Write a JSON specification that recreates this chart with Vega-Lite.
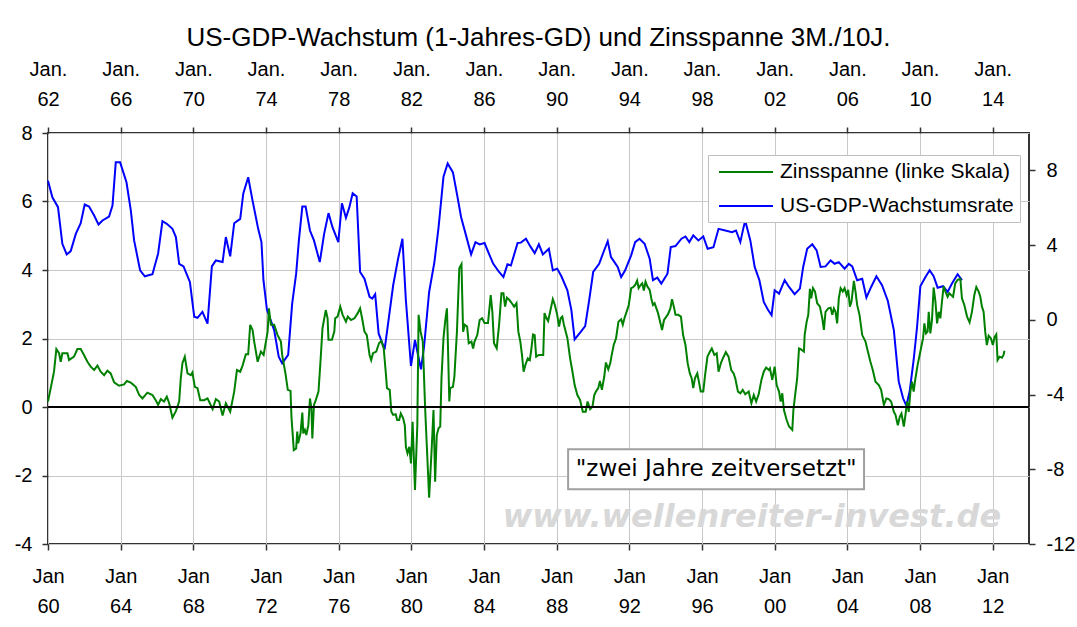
{
  "$schema": "https://vega.github.io/schema/vega-lite/v6.json",
  "width": 981,
  "height": 411,
  "autosize": "none",
  "padding": {"left": 48, "top": 133, "right": 48, "bottom": 83},
  "background": "white",
  "title": {"text": "US-GDP-Wachstum (1-Jahres-GD) und Zinsspanne 3M./10J.", "font": "Liberation Sans", "fontSize": 26, "fontWeight": "normal", "color": "black", "anchor": "middle", "offset": 8},
  "config": {
    "font": "Liberation Sans",
    "view": {"stroke": "#333333", "strokeWidth": 2},
    "axis": {"labelFont": "Liberation Sans", "labelFontSize": 20, "labelColor": "black", "tickColor": "#333333", "tickSize": 6, "tickWidth": 1.5, "domain": false, "title": null, "labelOverlap": false, "labelFlush": false, "gridColor": "#c8c8c8", "gridWidth": 1, "labelLineHeight": 30},
    "legend": {"orient": "none", "legendX": 660, "legendY": 22, "symbolType": "M-0.6,0H4.8", "symbolSize": 400, "symbolStrokeWidth": 2, "labelFontSize": 21, "labelFont": "Liberation Sans", "labelColor": "black", "labelLimit": 400, "padding": 6, "strokeColor": "#c0c0c0", "fillColor": "white", "rowPadding": 13, "labelOffset": 44}
  },
  "datasets": {
    "zinsspanne": [
      {"jahr":1960.00,"wert":0.16},{"jahr":1960.15,"wert":0.55},{"jahr":1960.33,"wert":1.03},{"jahr":1960.46,"wert":1.69},{"jahr":1960.61,"wert":1.57},{"jahr":1960.70,"wert":1.32},{"jahr":1960.79,"wert":1.57},{"jahr":1961.07,"wert":1.57},{"jahr":1961.16,"wert":1.37},{"jahr":1961.43,"wert":1.47},{"jahr":1961.62,"wert":1.69},{"jahr":1961.80,"wert":1.69},{"jahr":1961.98,"wert":1.52},{"jahr":1962.17,"wert":1.32},{"jahr":1962.35,"wert":1.18},{"jahr":1962.54,"wert":1.08},{"jahr":1962.72,"wert":1.21},{"jahr":1962.90,"wert":1.03},{"jahr":1963.09,"wert":0.93},{"jahr":1963.27,"wert":1.06},{"jahr":1963.45,"wert":0.98},{"jahr":1963.64,"wert":0.72},{"jahr":1963.91,"wert":0.62},{"jahr":1964.19,"wert":0.66},{"jahr":1964.34,"wert":0.76},{"jahr":1964.56,"wert":0.71},{"jahr":1964.83,"wert":0.59},{"jahr":1965.02,"wert":0.35},{"jahr":1965.20,"wert":0.25},{"jahr":1965.47,"wert":0.42},{"jahr":1965.75,"wert":0.35},{"jahr":1965.93,"wert":0.20},{"jahr":1966.06,"wert":0.06},{"jahr":1966.21,"wert":0.23},{"jahr":1966.39,"wert":0.16},{"jahr":1966.54,"wert":0.30},{"jahr":1966.67,"wert":0.11},{"jahr":1966.85,"wert":-0.31},{"jahr":1967.04,"wert":-0.12},{"jahr":1967.22,"wert":0.16},{"jahr":1967.31,"wert":0.84},{"jahr":1967.40,"wert":1.28},{"jahr":1967.53,"wert":1.47},{"jahr":1967.68,"wert":0.98},{"jahr":1967.86,"wert":0.93},{"jahr":1967.95,"wert":1.01},{"jahr":1968.08,"wert":0.59},{"jahr":1968.23,"wert":0.55},{"jahr":1968.38,"wert":0.20},{"jahr":1968.60,"wert":0.20},{"jahr":1968.78,"wert":0.25},{"jahr":1969.06,"wert":-0.06},{"jahr":1969.24,"wert":0.23},{"jahr":1969.42,"wert":0.16},{"jahr":1969.61,"wert":-0.25},{"jahr":1969.79,"wert":0.11},{"jahr":1970.03,"wert":-0.14},{"jahr":1970.25,"wert":0.45},{"jahr":1970.40,"wert":1.08},{"jahr":1970.58,"wert":1.03},{"jahr":1970.71,"wert":1.21},{"jahr":1970.89,"wert":1.54},{"jahr":1971.02,"wert":1.54},{"jahr":1971.13,"wert":2.40},{"jahr":1971.26,"wert":2.25},{"jahr":1971.35,"wert":1.91},{"jahr":1971.54,"wert":1.32},{"jahr":1971.72,"wert":1.62},{"jahr":1971.87,"wert":1.52},{"jahr":1972.09,"wert":2.20},{"jahr":1972.16,"wert":2.88},{"jahr":1972.27,"wert":2.40},{"jahr":1972.45,"wert":2.40},{"jahr":1972.64,"wert":2.10},{"jahr":1972.82,"wert":1.91},
      {"jahr":1972.89,"wert":1.52},{"jahr":1973.07,"wert":0.98},{"jahr":1973.20,"wert":0.50},{"jahr":1973.35,"wert":0.47},{"jahr":1973.40,"wert":-0.28},{"jahr":1973.53,"wert":-1.26},{"jahr":1973.66,"wert":-1.21},{"jahr":1973.72,"wert":-0.72},{"jahr":1973.77,"wert":-1.06},{"jahr":1973.90,"wert":-0.77},{"jahr":1974.00,"wert":-0.16},{"jahr":1974.05,"wert":-0.77},{"jahr":1974.14,"wert":-0.67},{"jahr":1974.22,"wert":-0.82},{"jahr":1974.33,"wert":-0.53},{"jahr":1974.42,"wert":0.25},{"jahr":1974.50,"wert":-0.04},{"jahr":1974.55,"wert":-0.92},{"jahr":1974.64,"wert":0.06},{"jahr":1974.74,"wert":0.20},{"jahr":1974.89,"wert":0.45},{"jahr":1975.01,"wert":1.42},{"jahr":1975.11,"wert":2.30},{"jahr":1975.29,"wert":2.83},{"jahr":1975.39,"wert":2.59},{"jahr":1975.44,"wert":1.96},{"jahr":1975.63,"wert":1.96},{"jahr":1975.76,"wert":2.20},{"jahr":1975.81,"wert":2.59},{"jahr":1975.94,"wert":2.64},{"jahr":1976.09,"wert":2.93},{"jahr":1976.22,"wert":2.69},{"jahr":1976.40,"wert":2.49},{"jahr":1976.50,"wert":2.64},{"jahr":1976.68,"wert":2.54},{"jahr":1976.87,"wert":2.59},{"jahr":1977.05,"wert":2.74},{"jahr":1977.18,"wert":2.88},{"jahr":1977.29,"wert":2.59},{"jahr":1977.42,"wert":2.20},{"jahr":1977.55,"wert":2.10},{"jahr":1977.70,"wert":1.52},{"jahr":1977.79,"wert":1.37},{"jahr":1977.89,"wert":1.57},{"jahr":1978.07,"wert":1.62},{"jahr":1978.22,"wert":1.86},{"jahr":1978.35,"wert":1.93},{"jahr":1978.48,"wert":1.71},{"jahr":1978.59,"wert":1.03},{"jahr":1978.66,"wert":0.55},{"jahr":1978.81,"wert":0.50},{"jahr":1978.90,"wert":-0.14},{"jahr":1979.00,"wert":-0.23},{"jahr":1979.14,"wert":-0.21},{"jahr":1979.22,"wert":-0.38},{"jahr":1979.33,"wert":-0.38},{"jahr":1979.42,"wert":-0.19},{"jahr":1979.55,"wert":-0.33},{"jahr":1979.64,"wert":-0.53},{"jahr":1979.70,"wert":-1.16},{"jahr":1979.79,"wert":-1.35},{"jahr":1979.89,"wert":-1.16},{"jahr":1979.98,"wert":-1.65},{"jahr":1980.07,"wert":-0.43},{"jahr":1980.20,"wert":-2.42},{"jahr":1980.33,"wert":-0.53},{"jahr":1980.40,"wert":2.69},{"jahr":1980.51,"wert":2.20},{"jahr":1980.63,"wert":1.91},{"jahr":1980.76,"wert":-0.04},{"jahr":1980.85,"wert":-1.11},{"jahr":1980.98,"wert":-2.65},{"jahr":1981.13,"wert":-1.11},{"jahr":1981.22,"wert":-0.09},{"jahr":1981.31,"wert":-2.18},{"jahr":1981.40,"wert":-0.82},{"jahr":1981.50,"wert":-0.62},{"jahr":1981.59,"wert":-0.57},{"jahr":1981.66,"wert":0.84},{"jahr":1981.77,"wert":2.01},{"jahr":1981.87,"wert":2.54},{"jahr":1981.96,"wert":2.88},{"jahr":1982.01,"wert":1.91},{"jahr":1982.09,"wert":0.16},{"jahr":1982.14,"wert":0.55},{"jahr":1982.29,"wert":0.59},{"jahr":1982.37,"wert":0.89},{"jahr":1982.51,"wert":2.20},{"jahr":1982.64,"wert":4.05},{"jahr":1982.76,"wert":4.17},{"jahr":1982.85,"wert":2.20},{"jahr":1982.94,"wert":2.40},{"jahr":1983.07,"wert":2.35},{"jahr":1983.16,"wert":1.86},{"jahr":1983.31,"wert":1.91},{"jahr":1983.40,"wert":1.71},{"jahr":1983.48,"wert":1.91},{"jahr":1983.63,"wert":2.10},{"jahr":1983.76,"wert":2.54},{"jahr":1983.90,"wert":2.59},{"jahr":1984.03,"wert":2.45},{"jahr":1984.22,"wert":2.45},{"jahr":1984.37,"wert":3.27},{"jahr":1984.46,"wert":2.78},{"jahr":1984.55,"wert":1.86},{"jahr":1984.70,"wert":1.71},{"jahr":1984.83,"wert":2.40},{"jahr":1984.96,"wert":3.32},{"jahr":1985.07,"wert":3.32},{"jahr":1985.16,"wert":2.93},{"jahr":1985.26,"wert":3.19},{"jahr":1985.39,"wert":3.13},{"jahr":1985.53,"wert":3.03},{"jahr":1985.66,"wert":2.93},{"jahr":1985.79,"wert":3.03},{"jahr":1985.89,"wert":2.20},{"jahr":1986.00,"wert":1.91},
      {"jahr":1986.09,"wert":1.52},{"jahr":1986.18,"wert":1.03},{"jahr":1986.28,"wert":1.23},{"jahr":1986.41,"wert":1.42},{"jahr":1986.52,"wert":1.37},{"jahr":1986.59,"wert":1.62},{"jahr":1986.70,"wert":2.12},{"jahr":1986.79,"wert":2.10},{"jahr":1986.87,"wert":1.47},{"jahr":1987.02,"wert":1.52},{"jahr":1987.26,"wert":1.52},{"jahr":1987.33,"wert":2.74},{"jahr":1987.44,"wert":2.59},{"jahr":1987.53,"wert":2.51},{"jahr":1987.66,"wert":2.83},{"jahr":1987.79,"wert":3.15},{"jahr":1987.90,"wert":2.98},{"jahr":1988.03,"wert":2.69},{"jahr":1988.13,"wert":2.35},{"jahr":1988.22,"wert":2.59},{"jahr":1988.31,"wert":2.64},{"jahr":1988.40,"wert":2.40},{"jahr":1988.59,"wert":2.01},{"jahr":1988.74,"wert":1.42},{"jahr":1988.87,"wert":1.03},{"jahr":1988.99,"wert":0.64},{"jahr":1989.14,"wert":0.35},{"jahr":1989.29,"wert":0.20},{"jahr":1989.44,"wert":-0.14},{"jahr":1989.60,"wert":-0.14},{"jahr":1989.70,"wert":0.16},{"jahr":1989.84,"wert":-0.06},{"jahr":1989.97,"wert":0.01},{"jahr":1990.07,"wert":0.35},{"jahr":1990.16,"wert":0.45},{"jahr":1990.29,"wert":0.55},{"jahr":1990.38,"wert":0.76},{"jahr":1990.49,"wert":0.50},{"jahr":1990.62,"wert":0.89},{"jahr":1990.71,"wert":1.30},{"jahr":1990.84,"wert":1.10},{"jahr":1990.95,"wert":1.28},{"jahr":1991.03,"wert":1.52},{"jahr":1991.14,"wert":1.81},{"jahr":1991.27,"wert":2.01},{"jahr":1991.40,"wert":2.49},{"jahr":1991.55,"wert":2.56},{"jahr":1991.64,"wert":2.40},{"jahr":1991.73,"wert":2.59},{"jahr":1991.88,"wert":2.83},{"jahr":1991.97,"wert":2.98},{"jahr":1992.10,"wert":3.47},{"jahr":1992.19,"wert":3.49},{"jahr":1992.32,"wert":3.56},{"jahr":1992.43,"wert":3.69},{"jahr":1992.51,"wert":3.47},{"jahr":1992.62,"wert":3.56},{"jahr":1992.71,"wert":3.61},{"jahr":1992.80,"wert":3.40},{"jahr":1992.89,"wert":3.66},{"jahr":1992.99,"wert":3.52},{"jahr":1993.12,"wert":3.42},{"jahr":1993.21,"wert":3.17},{"jahr":1993.30,"wert":2.98},{"jahr":1993.39,"wert":3.03},{"jahr":1993.58,"wert":2.74},{"jahr":1993.73,"wert":2.41},{"jahr":1993.80,"wert":2.25},{"jahr":1993.91,"wert":2.54},{"jahr":1994.04,"wert":2.64},{"jahr":1994.13,"wert":2.71},{"jahr":1994.26,"wert":2.88},{"jahr":1994.35,"wert":3.15},{"jahr":1994.47,"wert":2.88},{"jahr":1994.54,"wert":2.69},{"jahr":1994.69,"wert":2.69},{"jahr":1994.84,"wert":2.64},{"jahr":1994.96,"wert":2.10},{"jahr":1995.09,"wert":1.81},{"jahr":1995.21,"wert":1.28},{"jahr":1995.33,"wert":0.98},{"jahr":1995.43,"wert":0.84},{"jahr":1995.52,"wert":0.55},{"jahr":1995.61,"wert":0.84},{"jahr":1995.74,"wert":0.98},{"jahr":1995.83,"wert":0.74},{"jahr":1995.93,"wert":0.45},{"jahr":1996.07,"wert":0.45},{"jahr":1996.17,"wert":0.93},{"jahr":1996.30,"wert":1.47},{"jahr":1996.44,"wert":1.62},{"jahr":1996.54,"wert":1.71},{"jahr":1996.68,"wert":1.52},{"jahr":1996.81,"wert":1.57},{"jahr":1996.91,"wert":1.03},{"jahr":1997.04,"wert":1.28},{"jahr":1997.15,"wert":1.42},{"jahr":1997.31,"wert":1.60},{"jahr":1997.46,"wert":1.47},{"jahr":1997.61,"wert":1.08},{"jahr":1997.74,"wert":0.98},{"jahr":1997.83,"wert":0.84},{"jahr":1997.98,"wert":0.45},{"jahr":1998.11,"wert":0.40},{"jahr":1998.24,"wert":0.50},{"jahr":1998.38,"wert":0.37},{"jahr":1998.57,"wert":0.45},{"jahr":1998.72,"wert":0.11},{"jahr":1998.85,"wert":0.35},{"jahr":1998.98,"wert":0.16},{"jahr":1999.12,"wert":0.37},{"jahr":1999.27,"wert":0.79},{"jahr":1999.40,"wert":1.03},{"jahr":1999.53,"wert":1.15},{"jahr":1999.68,"wert":1.08},
      {"jahr":1999.74,"wert":1.13},{"jahr":1999.87,"wert":0.79},{"jahr":2000.00,"wert":1.18},{"jahr":2000.11,"wert":0.64},{"jahr":2000.24,"wert":0.45},{"jahr":2000.33,"wert":0.16},{"jahr":2000.42,"wert":0.40},{"jahr":2000.51,"wert":-0.09},{"jahr":2000.66,"wert":-0.38},{"jahr":2000.79,"wert":-0.57},{"jahr":2000.97,"wert":-0.67},{"jahr":2001.03,"wert":-0.09},{"jahr":2001.15,"wert":0.45},{"jahr":2001.24,"wert":0.84},{"jahr":2001.34,"wert":1.71},{"jahr":2001.43,"wert":1.69},{"jahr":2001.61,"wert":1.62},{"jahr":2001.65,"wert":2.10},{"jahr":2001.76,"wert":2.49},{"jahr":2001.85,"wert":2.69},{"jahr":2001.94,"wert":3.45},{"jahr":2002.01,"wert":3.17},{"jahr":2002.11,"wert":3.47},{"jahr":2002.22,"wert":3.37},{"jahr":2002.34,"wert":3.03},{"jahr":2002.49,"wert":2.93},{"jahr":2002.62,"wert":2.59},{"jahr":2002.71,"wert":2.25},{"jahr":2002.80,"wert":2.78},{"jahr":2002.95,"wert":2.88},{"jahr":2003.08,"wert":2.90},{"jahr":2003.17,"wert":2.69},{"jahr":2003.26,"wert":2.88},{"jahr":2003.35,"wert":2.78},{"jahr":2003.44,"wert":2.44},{"jahr":2003.53,"wert":3.17},{"jahr":2003.63,"wert":3.47},{"jahr":2003.75,"wert":3.37},{"jahr":2003.85,"wert":3.47},{"jahr":2003.96,"wert":3.27},{"jahr":2004.05,"wert":3.42},{"jahr":2004.14,"wert":2.93},{"jahr":2004.23,"wert":3.08},{"jahr":2004.36,"wert":3.68},{"jahr":2004.45,"wert":3.37},{"jahr":2004.54,"wert":2.98},{"jahr":2004.67,"wert":2.69},{"jahr":2004.82,"wert":2.10},{"jahr":2005.00,"wert":1.91},{"jahr":2005.13,"wert":1.62},{"jahr":2005.27,"wert":1.32},{"jahr":2005.40,"wert":1.08},{"jahr":2005.55,"wert":0.74},{"jahr":2005.73,"wert":0.64},{"jahr":2005.86,"wert":0.50},{"jahr":2006.01,"wert":0.06},{"jahr":2006.15,"wert":0.25},{"jahr":2006.28,"wert":0.23},{"jahr":2006.41,"wert":0.16},{"jahr":2006.56,"wert":-0.14},{"jahr":2006.65,"wert":-0.23},{"jahr":2006.78,"wert":-0.53},{"jahr":2006.89,"wert":-0.28},{"jahr":2006.98,"wert":-0.19},{"jahr":2007.11,"wert":-0.57},{"jahr":2007.20,"wert":-0.23},{"jahr":2007.29,"wert":0.16},{"jahr":2007.38,"wert":-0.14},{"jahr":2007.47,"wert":0.45},{"jahr":2007.56,"wert":0.74},{"jahr":2007.65,"wert":0.45},{"jahr":2007.75,"wert":0.84},{"jahr":2007.87,"wert":1.23},{"jahr":2008.02,"wert":1.62},{"jahr":2008.17,"wert":2.01},{"jahr":2008.24,"wert":2.44},{"jahr":2008.33,"wert":2.15},{"jahr":2008.42,"wert":2.20},{"jahr":2008.48,"wert":2.78},{"jahr":2008.57,"wert":2.15},{"jahr":2008.66,"wert":2.54},{"jahr":2008.75,"wert":3.49},{"jahr":2008.85,"wert":3.08},{"jahr":2008.94,"wert":2.44},{"jahr":2009.03,"wert":2.78},{"jahr":2009.12,"wert":2.59},{"jahr":2009.21,"wert":3.08},{"jahr":2009.30,"wert":3.52},{"jahr":2009.40,"wert":3.37},{"jahr":2009.52,"wert":3.22},{"jahr":2009.61,"wert":3.32},{"jahr":2009.71,"wert":3.27},{"jahr":2009.82,"wert":3.22},{"jahr":2009.94,"wert":3.61},{"jahr":2010.07,"wert":3.71},{"jahr":2010.22,"wert":3.74},{"jahr":2010.31,"wert":3.17},{"jahr":2010.44,"wert":2.98},{"jahr":2010.59,"wert":2.64},{"jahr":2010.73,"wert":2.47},{"jahr":2010.86,"wert":2.78},{"jahr":2010.99,"wert":3.27},{"jahr":2011.10,"wert":3.50},{"jahr":2011.23,"wert":3.37},{"jahr":2011.32,"wert":3.22},{"jahr":2011.41,"wert":2.93},{"jahr":2011.50,"wert":2.78},{"jahr":2011.59,"wert":2.20},{"jahr":2011.68,"wert":1.81},{"jahr":2011.78,"wert":2.08},{"jahr":2011.90,"wert":2.01},{"jahr":2012.01,"wert":1.81},{"jahr":2012.11,"wert":2.05},{"jahr":2012.20,"wert":2.12},{"jahr":2012.27,"wert":1.37},{"jahr":2012.38,"wert":1.47},{"jahr":2012.51,"wert":1.44},{"jahr":2012.60,"wert":1.52},{"jahr":2012.65,"wert":1.64}
    ],
    "gdp": [
      {"jahr":1962.00,"wert":7.45},{"jahr":1962.24,"wert":6.56},{"jahr":1962.55,"wert":6.03},{"jahr":1962.79,"wert":4.07},{"jahr":1963.03,"wert":3.50},{"jahr":1963.25,"wert":3.68},{"jahr":1963.53,"wert":4.60},{"jahr":1963.80,"wert":5.17},{"jahr":1964.02,"wert":6.17},{"jahr":1964.26,"wert":6.06},{"jahr":1964.54,"wert":5.58},{"jahr":1964.78,"wert":5.10},{"jahr":1965.00,"wert":5.32},{"jahr":1965.36,"wert":5.53},{"jahr":1965.55,"wert":6.12},{"jahr":1965.73,"wert":8.43},{"jahr":1965.97,"wert":8.43},{"jahr":1966.32,"wert":7.36},{"jahr":1966.56,"wert":5.85},{"jahr":1966.74,"wert":4.25},{"jahr":1967.07,"wert":2.65},{"jahr":1967.33,"wert":2.33},{"jahr":1967.75,"wert":2.44},{"jahr":1968.06,"wert":3.54},{"jahr":1968.30,"wert":5.28},{"jahr":1968.54,"wert":5.14},{"jahr":1968.85,"wert":4.87},{"jahr":1969.04,"wert":4.43},{"jahr":1969.22,"wert":3.00},{"jahr":1969.46,"wert":2.86},{"jahr":1969.81,"wert":2.03},{"jahr":1970.05,"wert":0.16},{"jahr":1970.23,"wert":0.11},{"jahr":1970.50,"wert":0.43},{"jahr":1970.78,"wert":-0.20},{"jahr":1971.02,"wert":2.86},{"jahr":1971.24,"wert":3.18},{"jahr":1971.61,"wert":3.09},{"jahr":1971.79,"wert":4.43},{"jahr":1972.03,"wert":3.40},{"jahr":1972.25,"wert":5.17},{"jahr":1972.58,"wert":5.40},{"jahr":1972.75,"wert":6.77},{"jahr":1973.02,"wert":7.63},{"jahr":1973.26,"wert":6.38},{"jahr":1973.57,"wert":4.87},{"jahr":1973.75,"wert":4.16},{"jahr":1973.86,"wert":2.12},{"jahr":1974.05,"wert":0.55},{"jahr":1974.45,"wert":-0.55},
      {"jahr":1974.70,"wert":-1.97},{"jahr":1974.89,"wert":-2.33},{"jahr":1975.22,"wert":-1.88},{"jahr":1975.44,"wert":0.87},{"jahr":1975.66,"wert":2.47},{"jahr":1975.81,"wert":4.25},{"jahr":1976.00,"wert":6.06},{"jahr":1976.18,"wert":6.06},{"jahr":1976.42,"wert":4.78},{"jahr":1976.64,"wert":4.25},{"jahr":1976.96,"wert":3.09},{"jahr":1977.20,"wert":4.60},{"jahr":1977.44,"wert":5.71},{"jahr":1977.66,"wert":4.96},{"jahr":1977.98,"wert":4.16},{"jahr":1978.18,"wert":6.24},{"jahr":1978.40,"wert":5.46},{"jahr":1978.59,"wert":6.03},{"jahr":1978.77,"wert":6.77},{"jahr":1978.99,"wert":6.60},{"jahr":1979.18,"wert":2.56},{"jahr":1979.42,"wert":2.20},{"jahr":1979.70,"wert":1.23},{"jahr":1979.85,"wert":1.14},{"jahr":1980.01,"wert":1.37},{"jahr":1980.20,"wert":-0.73},{"jahr":1980.53,"wert":-1.58},{"jahr":1980.72,"wert":-0.20},{"jahr":1981.00,"wert":1.85},{"jahr":1981.27,"wert":3.27},{"jahr":1981.51,"wert":4.34},{"jahr":1981.70,"wert":1.05},{"jahr":1981.98,"wert":-2.47},{"jahr":1982.20,"wert":-1.08},{"jahr":1982.53,"wert":-2.65},{"jahr":1982.70,"wert":-1.44},{"jahr":1982.98,"wert":1.49},{"jahr":1983.27,"wert":3.09},{"jahr":1983.50,"wert":4.96},{"jahr":1983.77,"wert":7.66},{"jahr":1984.00,"wert":8.37},{"jahr":1984.29,"wert":7.89},{"jahr":1984.51,"wert":6.74},{"jahr":1984.74,"wert":5.49},{"jahr":1985.01,"wert":4.52},{"jahr":1985.29,"wert":3.50},{"jahr":1985.53,"wert":4.16},{"jahr":1985.76,"wert":4.04},{"jahr":1986.03,"wert":4.11},{"jahr":1986.27,"wert":3.54},{"jahr":1986.51,"wert":3.00},{"jahr":1986.83,"wert":2.56},{"jahr":1987.07,"wert":2.29},{"jahr":1987.29,"wert":2.97},{"jahr":1987.48,"wert":2.91},{"jahr":1987.85,"wert":4.11},{"jahr":1988.03,"wert":4.13},{"jahr":1988.31,"wert":4.34},{"jahr":1988.55,"wert":3.93},
      {"jahr":1988.79,"wert":3.57},{"jahr":1989.02,"wert":4.04},{"jahr":1989.24,"wert":3.50},{"jahr":1989.57,"wert":3.80},{"jahr":1989.79,"wert":2.65},{"jahr":1990.03,"wert":2.74},{"jahr":1990.26,"wert":2.33},{"jahr":1990.59,"wert":1.58},{"jahr":1990.81,"wert":0.52},{"jahr":1990.99,"wert":-1.05},{"jahr":1991.29,"wert":-0.69},{"jahr":1991.57,"wert":-0.34},{"jahr":1991.79,"wert":1.05},{"jahr":1992.01,"wert":2.56},{"jahr":1992.34,"wert":3.00},{"jahr":1992.58,"wert":3.63},{"jahr":1992.81,"wert":4.21},{"jahr":1992.99,"wert":3.36},{"jahr":1993.18,"wert":3.09},{"jahr":1993.36,"wert":2.83},{"jahr":1993.55,"wert":2.29},{"jahr":1993.77,"wert":2.65},{"jahr":1994.10,"wert":3.45},{"jahr":1994.32,"wert":4.16},{"jahr":1994.56,"wert":4.34},{"jahr":1994.84,"wert":4.07},{"jahr":1995.12,"wert":3.27},{"jahr":1995.30,"wert":2.12},{"jahr":1995.54,"wert":2.26},{"jahr":1995.76,"wert":1.94},{"jahr":1996.10,"wert":2.47},{"jahr":1996.28,"wert":3.89},{"jahr":1996.54,"wert":3.95},{"jahr":1996.87,"wert":4.34},{"jahr":1997.09,"wert":4.46},{"jahr":1997.30,"wert":4.16},{"jahr":1997.52,"wert":4.52},{"jahr":1997.80,"wert":4.25},{"jahr":1998.07,"wert":4.46},{"jahr":1998.31,"wert":3.80},{"jahr":1998.63,"wert":3.89},{"jahr":1998.91,"wert":4.87},{"jahr":1999.28,"wert":4.78},{"jahr":1999.65,"wert":4.69},{"jahr":1999.87,"wert":4.78},{"jahr":2000.11,"wert":4.16},{"jahr":2000.29,"wert":4.96},{"jahr":2000.38,"wert":5.30},{"jahr":2000.66,"wert":4.25},{"jahr":2000.90,"wert":2.83},{"jahr":2001.16,"wert":2.12},{"jahr":2001.40,"wert":0.96},{"jahr":2001.64,"wert":0.52},{"jahr":2001.83,"wert":0.25},
      {"jahr":2002.00,"wert":1.58},{"jahr":2002.24,"wert":1.40},{"jahr":2002.55,"wert":2.12},{"jahr":2002.79,"wert":1.76},{"jahr":2003.10,"wert":1.37},{"jahr":2003.39,"wert":1.67},{"jahr":2003.57,"wert":2.83},{"jahr":2003.79,"wert":3.80},{"jahr":2004.07,"wert":4.04},{"jahr":2004.31,"wert":3.72},{"jahr":2004.53,"wert":2.83},{"jahr":2004.80,"wert":2.86},{"jahr":2005.08,"wert":3.18},{"jahr":2005.30,"wert":3.00},{"jahr":2005.53,"wert":3.09},{"jahr":2005.85,"wert":2.74},{"jahr":2006.08,"wert":3.00},{"jahr":2006.27,"wert":2.86},{"jahr":2006.54,"wert":2.12},{"jahr":2006.82,"wert":2.20},{"jahr":2007.05,"wert":1.19},{"jahr":2007.31,"wert":1.76},{"jahr":2007.60,"wert":2.33},{"jahr":2007.91,"wert":1.85},{"jahr":2008.23,"wert":1.01},{"jahr":2008.56,"wert":-0.55},{"jahr":2008.83,"wert":-3.31},{"jahr":2009.07,"wert":-4.20},{"jahr":2009.25,"wert":-4.60},{"jahr":2009.43,"wert":-3.84},{"jahr":2009.65,"wert":-2.15},{"jahr":2009.84,"wert":-0.37},{"jahr":2010.02,"wert":1.80},{"jahr":2010.30,"wert":2.29},{"jahr":2010.53,"wert":2.65},{"jahr":2010.75,"wert":2.33},{"jahr":2010.97,"wert":1.72},{"jahr":2011.27,"wert":1.80},{"jahr":2011.52,"wert":1.49},{"jahr":2011.76,"wert":1.94},{"jahr":2012.07,"wert":2.44},{"jahr":2012.31,"wert":2.12}
    ]
  },
  "layer": [
    {
      "data": {"name": "gdp"},
      "mark": {"type": "line", "strokeWidth": 2},
      "encoding": {
        "x": {"field": "jahr", "type": "quantitative", "scale": {"domain": [1962, 2016], "nice": false, "zero": false},
              "axis": {"orient": "top", "values": [1962,1966,1970,1974,1978,1982,1986,1990,1994,1998,2002,2006,2010,2014], "labelExpr": "['Jan.', substring(toString(datum.value), 2, 4)]", "grid": false, "labelPadding": 48}},
        "y": {"field": "wert", "type": "quantitative", "scale": {"domain": [-12, 10], "nice": false, "zero": false},
              "axis": {"orient": "right", "values": [-12,-8,-4,0,4,8], "labelExpr": "toString(datum.value)", "grid": false, "labelPadding": 11}},
        "color": {"datum": "US-GDP-Wachstumsrate", "type": "nominal", "scale": {"domain": ["Zinsspanne (linke Skala)", "US-GDP-Wachstumsrate"], "range": ["#008000", "#0000ff"]}, "legend": {"title": null}}
      }
    },
    {
      "layer": [
        {
          "data": {"name": "zinsspanne"},
          "mark": {"type": "line", "strokeWidth": 2},
          "encoding": {
            "x": {"field": "jahr", "type": "quantitative", "scale": {"domain": [1960, 2014], "nice": false, "zero": false},
                  "axis": {"orient": "bottom", "values": [1960,1964,1968,1972,1976,1980,1984,1988,1992,1996,2000,2004,2008,2012], "labelExpr": "['Jan', substring(toString(datum.value), 2, 4)]", "grid": true, "labelPadding": 16}},
            "y": {"field": "wert", "type": "quantitative", "scale": {"domain": [-4, 8], "nice": false, "zero": false},
                  "axis": {"orient": "left", "values": [-4,-2,0,2,4,6,8], "labelExpr": "toString(datum.value)", "grid": true, "labelPadding": 10}},
            "color": {"datum": "Zinsspanne (linke Skala)", "type": "nominal", "scale": {"domain": ["Zinsspanne (linke Skala)", "US-GDP-Wachstumsrate"], "range": ["#008000", "#0000ff"]}, "legend": {"title": null}}
          }
        },
        {
          "data": {"values": [{}]},
          "mark": {"type": "rule", "color": "black", "strokeWidth": 2},
          "encoding": {"y": {"datum": 0, "type": "quantitative"}}
        },
        {
          "data": {"values": [{}]},
          "mark": {"type": "rect", "fill": "white", "stroke": "#a0a0a0", "strokeWidth": 2},
          "encoding": {"x": {"datum": 1988.63, "type": "quantitative"}, "x2": {"datum": 2004.92}, "y": {"datum": -1.23, "type": "quantitative"}, "y2": {"datum": -2.40}}
        },
        {
          "data": {"values": [{}]},
          "mark": {"type": "text", "text": "\"zwei Jahre zeitversetzt\"", "font": "DejaVu Sans", "fontSize": 23, "color": "black", "align": "center", "baseline": "middle"},
          "encoding": {"x": {"datum": 1996.78, "type": "quantitative"}, "y": {"datum": -1.81, "type": "quantitative"}}
        },
        {
          "data": {"values": [{}]},
          "mark": {"type": "text", "text": "www.wellenreiter-invest.de", "font": "DejaVu Sans", "fontStyle": "italic", "fontWeight": "bold", "fontSize": 32, "color": "#d8d8d8", "align": "center", "baseline": "middle"},
          "encoding": {"x": {"datum": 1998.75, "type": "quantitative"}, "y": {"datum": -3.21, "type": "quantitative"}}
        }
      ]
    }
  ],
  "resolve": {"scale": {"x": "independent", "y": "independent", "color": "shared"}}
}
